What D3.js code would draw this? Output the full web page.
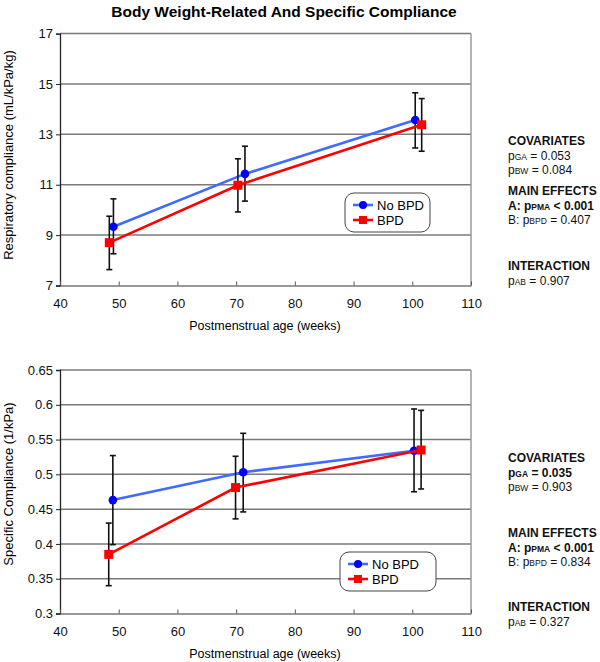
<!DOCTYPE html>
<html><head><meta charset="utf-8">
<script src="https://cdn.jsdelivr.net/npm/d3@7"></script>
<style>body{margin:0;background:#fff}svg{font-family:"Liberation Sans",Arial,sans-serif}</style>
</head><body><svg id="c" width="600" height="662"></svg>
<script>
// ---- data ----
const seriesNames = ["No BPD", "BPD"];
const xTicks = [40, 50, 60, 70, 80, 90, 100, 110];
// Panel 1: respiratory compliance (mL/kPa/kg)
const p1NoBpdX = [49.1, 71.5, 100.5];
const p1NoBpdY = [9.33, 11.43, 13.57];
const p1NoBpdLo = [8.26, 10.35, 12.46];
const p1NoBpdHi = [10.44, 12.53, 14.65];
const p1BpdX = [48.4, 70.3, 101.6];
const p1BpdY = [8.70, 10.98, 13.38];
const p1BpdLo = [7.63, 9.92, 12.33];
const p1BpdHi = [9.75, 12.03, 14.42];
const p1YTicks = [7, 9, 11, 13, 15, 17];
// Panel 2: specific compliance (1/kPa)
const p2NoBpdX = [49.0, 71.2, 100.3];
const p2NoBpdY = [0.463, 0.503, 0.534];
const p2NoBpdLo = [0.399, 0.446, 0.475];
const p2NoBpdHi = [0.527, 0.559, 0.594];
const p2BpdX = [48.3, 69.9, 101.5];
const p2BpdY = [0.385, 0.481, 0.535];
const p2BpdLo = [0.340, 0.436, 0.479];
const p2BpdHi = [0.430, 0.526, 0.592];
const p2YTicks = [0.3, 0.35, 0.4, 0.45, 0.5, 0.55, 0.6, 0.65];

const colors = ["#3f6bff", "#ff0000"];
const markerColors = ["#0000ff", "#ff0000"];

const svg = d3.select("#c");
svg.append("text").attr("x", 284).attr("y", 17).attr("text-anchor", "middle")
  .attr("font-size", 15.5).attr("font-weight", "bold").text("Body Weight-Related And Specific Compliance");

function panel(cfg) {
  const g = svg.append("g");
  const x = d3.scaleLinear().domain([40, 110]).range([60, 471]);
  const y = d3.scaleLinear().domain(cfg.yDomain).range([cfg.bottom, cfg.top]);
  // gridlines
  g.selectAll(".grid").data(cfg.yTicks.slice(1)).join("line")
    .attr("x1", 60).attr("x2", 471).attr("y1", d => y(d)).attr("y2", d => y(d))
    .attr("stroke", "#7a7a7a").attr("stroke-width", 1.5);
  // right border
  g.append("line").attr("x1", 471).attr("x2", 471).attr("y1", cfg.top).attr("y2", cfg.bottom)
    .attr("stroke", "#9a9a9a").attr("stroke-width", 1.5);
  // axes
  const ya = g.append("g").attr("transform", "translate(60,0)")
    .call(d3.axisLeft(y).tickValues(cfg.yTicks).tickSize(4).tickFormat(cfg.fmt));
  ya.select(".domain").attr("stroke", "#222").attr("stroke-width", 1.3);
  ya.selectAll(".tick line").attr("stroke", "#222");
  ya.selectAll("text").attr("font-size", 13).attr("fill", "#111").attr("font-family", "Liberation Sans, Arial, sans-serif");
  const xa = g.append("g").attr("transform", `translate(0,${cfg.bottom})`)
    .call(d3.axisBottom(x).tickValues(xTicks).tickSize(-4).tickPadding(13).tickSizeOuter(0));
  xa.select(".domain").attr("stroke", "#777").attr("stroke-width", 1.5);
  xa.selectAll(".tick line").attr("stroke", "#555");
  xa.selectAll("text").attr("font-size", 13).attr("fill", "#111").attr("font-family", "Liberation Sans, Arial, sans-serif");
  // axis titles
  g.append("text").attr("x", 265).attr("y", cfg.bottom + 44).attr("text-anchor", "middle")
    .attr("font-size", 12.5).text("Postmenstrual age (weeks)");
  g.append("text").attr("transform", `translate(13,${cfg.yTitleY}) rotate(-90)`).attr("text-anchor", "middle")
    .attr("font-size", 13).text(cfg.yTitle);
  // series
  cfg.series.forEach((s, i) => {
    const pts = s.x.map((xv, j) => ({x: xv, y: s.y[j], lo: s.lo[j], hi: s.hi[j]}));
    g.append("path").datum(pts)
      .attr("d", d3.line().x(d => x(d.x)).y(d => y(d.y)))
      .attr("fill", "none").attr("stroke", colors[i]).attr("stroke-width", 2.6);
    const eb = g.append("g").attr("stroke", "#111").attr("stroke-width", 1.6);
    pts.forEach(d => {
      eb.append("line").attr("x1", x(d.x)).attr("x2", x(d.x)).attr("y1", y(d.lo)).attr("y2", y(d.hi));
      eb.append("line").attr("x1", x(d.x) - 3).attr("x2", x(d.x) + 3).attr("y1", y(d.lo)).attr("y2", y(d.lo));
      eb.append("line").attr("x1", x(d.x) - 3).attr("x2", x(d.x) + 3).attr("y1", y(d.hi)).attr("y2", y(d.hi));
    });
    if (i === 0) {
      g.selectAll(null).data(pts).join("circle").attr("cx", d => x(d.x)).attr("cy", d => y(d.y))
        .attr("r", 4.3).attr("fill", markerColors[0]);
    } else {
      g.selectAll(null).data(pts).join("rect").attr("x", d => x(d.x) - 4.5).attr("y", d => y(d.y) - 4.5)
        .attr("width", 9).attr("height", 9).attr("fill", markerColors[1]);
    }
  });
  // legend
  const lg = g.append("g").attr("transform", `translate(${cfg.legX},${cfg.legY})`);
  lg.append("rect").attr("width", cfg.legW).attr("height", 39).attr("rx", 9).attr("ry", 9)
    .attr("fill", "#fff").attr("stroke", "#444").attr("stroke-width", 1);
  seriesNames.forEach((n, i) => {
    const yy = 12 + i * 15;
    lg.append("line").attr("x1", 8).attr("x2", 28).attr("y1", yy).attr("y2", yy)
      .attr("stroke", colors[i]).attr("stroke-width", 2.6);
    if (i === 0) lg.append("circle").attr("cx", 18).attr("cy", yy).attr("r", 4).attr("fill", markerColors[0]);
    else lg.append("rect").attr("x", 14).attr("y", yy - 4).attr("width", 8).attr("height", 8).attr("fill", markerColors[1]);
    lg.append("text").attr("x", 32).attr("y", yy + 4.5).attr("font-size", 13).text(n);
  });
  // annotations
  const ax = 508;
  cfg.notes.forEach(nt => {
    const t = g.append("text").attr("x", ax).attr("y", nt.y).attr("font-size", 12)
      .attr("font-weight", nt.bold ? "bold" : "normal").attr("fill", "#111");
    nt.parts.forEach(p => {
      if (p.sub) {
        t.append("tspan").attr("font-size", 8.5).text(p.t);
      } else {
        t.append("tspan").text(p.t);
      }
    });
  });
}

function notes(base, vals) {
  return [
    {y: base[0], bold: true, parts: [{t: "COVARIATES"}]},
    {y: base[0] + 15, bold: vals.gaBold, parts: [{t: "p"}, {t: "GA", sub: true}, {t: " = " + vals.ga}]},
    {y: base[0] + 29, parts: [{t: "p"}, {t: "BW", sub: true}, {t: " = " + vals.bw}]},
    {y: base[1], bold: true, parts: [{t: "MAIN EFFECTS"}]},
    {y: base[1] + 15, bold: true, parts: [{t: "A: p"}, {t: "PMA", sub: true}, {t: " < " + vals.pma}]},
    {y: base[1] + 29, parts: [{t: "B: p"}, {t: "BPD", sub: true}, {t: " = " + vals.bpd}]},
    {y: base[2], bold: true, parts: [{t: "INTERACTION"}]},
    {y: base[2] + 15, parts: [{t: "p"}, {t: "AB", sub: true}, {t: "  = " + vals.ab}]}
  ];
}

panel({
  top: 33.6, bottom: 285.5, yDomain: [7, 17], yTicks: p1YTicks, fmt: d3.format("d"),
  yTitle: "Respiratory compliance (mL/kPa/kg)", yTitleY: 155,
  series: [
    {x: p1NoBpdX, y: p1NoBpdY, lo: p1NoBpdLo, hi: p1NoBpdHi},
    {x: p1BpdX, y: p1BpdY, lo: p1BpdLo, hi: p1BpdHi}
  ],
  legX: 345, legY: 193, legW: 85,
  notes: notes([145, 195, 270], {ga: "0.053", bw: "0.084", pma: "0.001", bpd: "0.407", ab: "0.907", gaBold: false})
});
panel({
  top: 370, bottom: 613.5, yDomain: [0.3, 0.65], yTicks: p2YTicks, fmt: d => d3.format("")(+d.toFixed(2)),
  yTitle: "Specific Compliance (1/kPa)", yTitleY: 484,
  series: [
    {x: p2NoBpdX, y: p2NoBpdY, lo: p2NoBpdLo, hi: p2NoBpdHi},
    {x: p2BpdX, y: p2BpdY, lo: p2BpdLo, hi: p2BpdHi}
  ],
  legX: 340, legY: 552, legW: 96,
  notes: notes([462, 537, 611], {ga: "0.035", bw: "0.903", pma: "0.001", bpd: "0.834", ab: "0.327", gaBold: true})
});
</script></body></html>
